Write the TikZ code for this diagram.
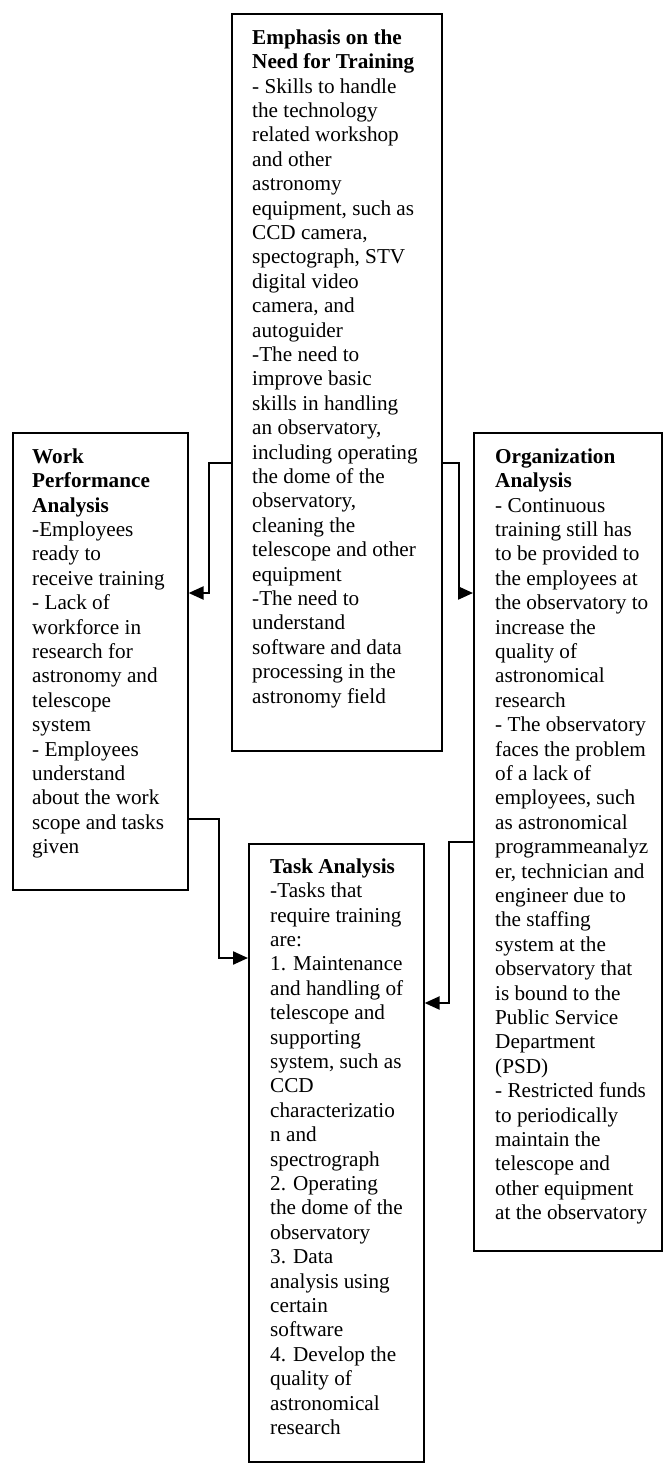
\documentclass[tikz,border=0pt]{standalone}
\usepackage{fontspec}
\setmainfont{Liberation Serif}
\usetikzlibrary{arrows.meta,calc}

\begin{document}
\begin{tikzpicture}[x=1pt,y=-1pt,
  panel/.style={draw,line width=1.6pt,rectangle,inner sep=0pt,anchor=north west},
  body/.style={anchor=north west,inner sep=0pt,align=left,
    font=\fontsize{21.2}{24.4}\selectfont},
  link/.style={line width=2.2pt,-{Triangle[length=15pt,width=13pt]}}]
\useasboundingbox[fill=white] (0,0) rectangle (662,1463);

% frames
\node[panel,minimum width=210pt,minimum height=737pt] (emph) at (231,13) {};
\node[panel,minimum width=175pt,minimum height=457pt] (work) at (12,432) {};
\node[panel,minimum width=188pt,minimum height=818pt] (org) at (473,432) {};
\node[panel,minimum width=175pt,minimum height=618pt] (task) at (248,843) {};

% texts
\node[body] (emphtext) at ($(emph.north west)+(21,14)$) {\strut\textbf{Emphasis on the}\\
\textbf{Need for Training}\\
- Skills to handle\\
the technology\\
related workshop\\
and other\\
astronomy\\
equipment, such as\\
CCD camera,\\
spectograph, STV\\
digital video\\
camera, and\\
autoguider\\
-The need to\\
improve basic\\
skills in handling\\
an observatory,\\
including operating\\
the dome of the\\
observatory,\\
cleaning the\\
telescope and other\\
equipment\\
-The need to\\
understand\\
software and data\\
processing in the\\
astronomy field};

\node[body] (worktext) at ($(work.north west)+(20,14)$) {\strut\textbf{Work}\\
\textbf{Performance}\\
\textbf{Analysis}\\
-Employees\\
ready to\\
receive training\\
- Lack of\\
workforce in\\
research for\\
astronomy and\\
telescope\\
system\\
- Employees\\
understand\\
about the work\\
scope and tasks\\
given};

\node[body] (orgtext) at ($(org.north west)+(22,14)$) {\strut\textbf{Organization}\\
\textbf{Analysis}\\
- Continuous\\
training still has\\
to be provided to\\
the employees at\\
the observatory to\\
increase the\\
quality of\\
astronomical\\
research\\
- The observatory\\
faces the problem\\
of a lack of\\
employees, such\\
as astronomical\\
programmeanalyz\\
er, technician and\\
engineer due to\\
the staffing\\
system at the\\
observatory that\\
is bound to the\\
Public Service\\
Department\\
(PSD)\\
- Restricted funds\\
to periodically\\
maintain the\\
telescope and\\
other equipment\\
at the observatory};

\node[body] (tasktext) at ($(task.north west)+(22,13)$) {\strut\textbf{Task Analysis}\\
-Tasks that\\
require training\\
are:\\
1. Maintenance\\
and handling of\\
telescope and\\
supporting\\
system, such as\\
CCD\\
characterizatio\\
n and\\
spectrograph\\
2. Operating\\
the dome of the\\
observatory\\
3. Data\\
analysis using\\
certain\\
software\\
4. Develop the\\
quality of\\
astronomical\\
research};

% connectors
\draw[link] ($(emph.north west)+(0,450)$) -- ++(-22,0) |- ($(work.north east)+(0,161)$);
\draw[link] ($(emph.north east)+(0,450)$) -- ++(16,0) |- ($(org.north west)+(0,161)$);
\draw[link] ($(work.north east)+(0,387)$) -- ++(30,0) |- ($(task.north west)+(0,115)$);
\draw[link] ($(org.north west)+(0,410)$) -- ++(-24,0) |- ($(task.north east)+(0,160)$);
\end{tikzpicture}
\end{document}
